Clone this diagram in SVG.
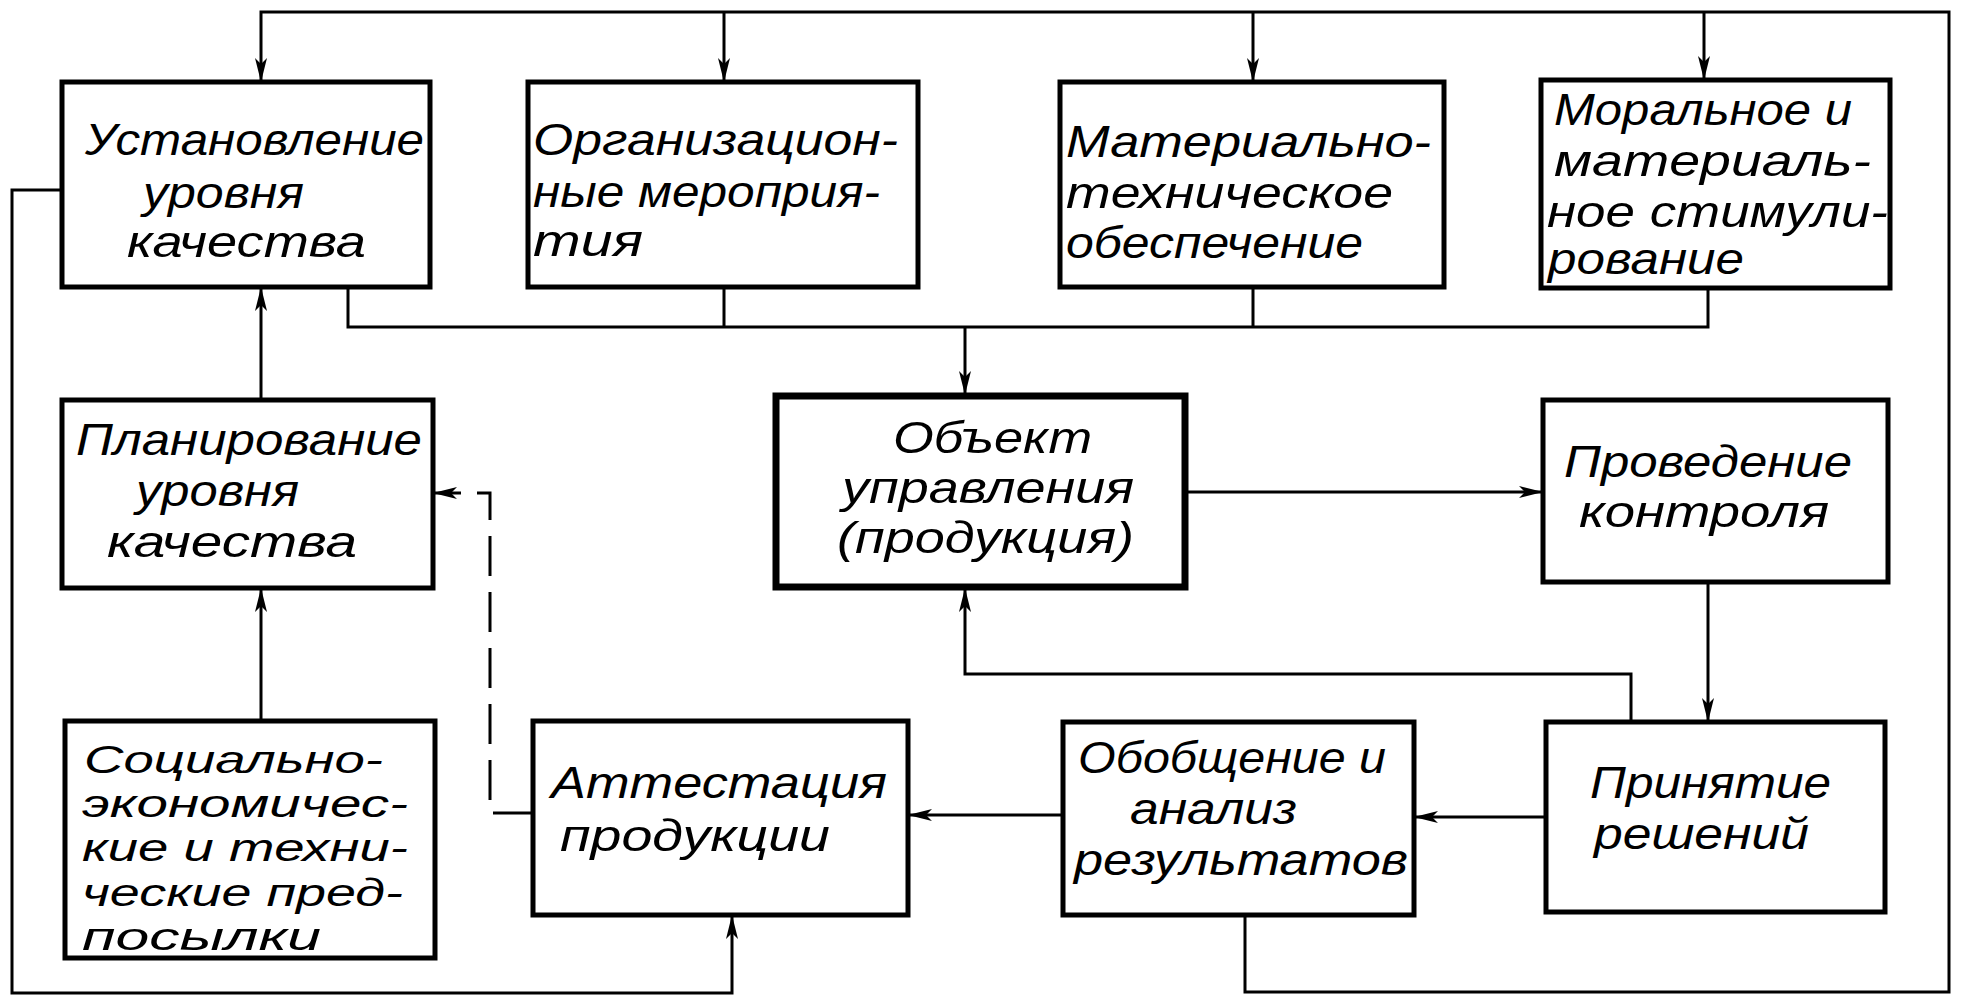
<svg xmlns="http://www.w3.org/2000/svg" width="1963" height="1003" viewBox="0 0 1963 1003">
<style>
.box{fill:#fff;stroke:#000;stroke-width:5}
.obj{fill:#fff;stroke:#000;stroke-width:7}
.t{font-family:"Liberation Sans","DejaVu Sans",sans-serif;font-style:italic;font-size:44px;fill:#000}
.s{font-size:39px}
.c{fill:none;stroke:#000;stroke-width:3}
.d{fill:none;stroke:#000;stroke-width:3;stroke-dasharray:40 16}
</style>
<defs>
<marker id="a" viewBox="0 0 24 12" markerWidth="24" markerHeight="12" refX="24" refY="6" orient="auto" markerUnits="userSpaceOnUse">
<path d="M0,0 L24,6 L0,12 L6,6 z" fill="#000"/>
</marker>
</defs>
<rect width="1963" height="1003" fill="#fff"/>
<g id="connectors">
<path class="c" d="M1245,915 V992 H1949 V12 H261 V82" marker-end="url(#a)"/>
<path class="c" d="M724,12 V82" marker-end="url(#a)"/>
<path class="c" d="M1253,12 V82" marker-end="url(#a)"/>
<path class="c" d="M1704,12 V80" marker-end="url(#a)"/>
<path class="c" d="M62,190 H12 V993 H732 V915" marker-end="url(#a)"/>
<path class="c" d="M348,287 V327 H1708 V288 M724,287 V327 M1253,287 V327"/>
<path class="c" d="M965,327 V395" marker-end="url(#a)"/>
<path class="c" d="M1186,492 H1543" marker-end="url(#a)"/>
<path class="c" d="M1708,582 V722" marker-end="url(#a)"/>
<path class="c" d="M1631,722 V674 H965 V588" marker-end="url(#a)"/>
<path class="c" d="M1546,817 H1414" marker-end="url(#a)"/>
<path class="c" d="M1063,815 H908" marker-end="url(#a)"/>
<path class="d" d="M533,813 H490 V493 H433" marker-end="url(#a)"/>
<path class="c" d="M261,400 V287" marker-end="url(#a)"/>
<path class="c" d="M261,721 V588" marker-end="url(#a)"/>
</g>
<g id="n1">
<rect class="box" x="62" y="82" width="368" height="205"/>
<text class="t" x="85" y="155" textLength="339" lengthAdjust="spacingAndGlyphs">Установление</text>
<text class="t" x="143" y="208" textLength="161" lengthAdjust="spacingAndGlyphs">уровня</text>
<text class="t" x="127" y="257" textLength="239" lengthAdjust="spacingAndGlyphs">качества</text>
</g>
<g id="n2">
<rect class="box" x="528" y="82" width="390" height="205"/>
<text class="t" x="533" y="155" textLength="365" lengthAdjust="spacingAndGlyphs">Организацион-</text>
<text class="t" x="533" y="207" textLength="347" lengthAdjust="spacingAndGlyphs">ные мероприя-</text>
<text class="t" x="533" y="256" textLength="110" lengthAdjust="spacingAndGlyphs">тия</text>
</g>
<g id="n3">
<rect class="box" x="1060" y="82" width="384" height="205"/>
<text class="t" x="1066" y="157" textLength="365" lengthAdjust="spacingAndGlyphs">Материально-</text>
<text class="t" x="1066" y="208" textLength="327" lengthAdjust="spacingAndGlyphs">техническое</text>
<text class="t" x="1066" y="258" textLength="297" lengthAdjust="spacingAndGlyphs">обеспечение</text>
</g>
<g id="n4">
<rect class="box" x="1541" y="80" width="349" height="208"/>
<text class="t" x="1554" y="125" textLength="298" lengthAdjust="spacingAndGlyphs">Моральное и</text>
<text class="t" x="1554" y="176" textLength="317" lengthAdjust="spacingAndGlyphs">материаль-</text>
<text class="t" x="1547" y="227" textLength="341" lengthAdjust="spacingAndGlyphs">ное стимули-</text>
<text class="t" x="1548" y="274" textLength="196" lengthAdjust="spacingAndGlyphs">рование</text>
</g>
<g id="n5">
<rect class="box" x="62" y="400" width="371" height="188"/>
<text class="t" x="76" y="455" textLength="346" lengthAdjust="spacingAndGlyphs">Планирование</text>
<text class="t" x="136" y="506" textLength="163" lengthAdjust="spacingAndGlyphs">уровня</text>
<text class="t" x="107" y="557" textLength="250" lengthAdjust="spacingAndGlyphs">качества</text>
</g>
<g id="n6">
<rect class="obj" x="776" y="396" width="409" height="191"/>
<text class="t" x="893" y="453" textLength="199" lengthAdjust="spacingAndGlyphs">Объект</text>
<text class="t" x="842" y="503" textLength="292" lengthAdjust="spacingAndGlyphs">управления</text>
<text class="t" x="837" y="553" textLength="297" lengthAdjust="spacingAndGlyphs">(продукция)</text>
</g>
<g id="n7">
<rect class="box" x="1543" y="400" width="345" height="182"/>
<text class="t" x="1564" y="477" textLength="288" lengthAdjust="spacingAndGlyphs">Проведение</text>
<text class="t" x="1579" y="527" textLength="250" lengthAdjust="spacingAndGlyphs">контроля</text>
</g>
<g id="n8">
<rect class="box" x="65" y="721" width="370" height="237"/>
<text class="t s" x="84" y="773" textLength="299" lengthAdjust="spacingAndGlyphs">Социально-</text>
<text class="t s" x="82" y="817" textLength="326" lengthAdjust="spacingAndGlyphs">экономичес-</text>
<text class="t s" x="82" y="861" textLength="326" lengthAdjust="spacingAndGlyphs">кие и техни-</text>
<text class="t s" x="82" y="906" textLength="321" lengthAdjust="spacingAndGlyphs">ческие пред-</text>
<text class="t s" x="82" y="950" textLength="239" lengthAdjust="spacingAndGlyphs">посылки</text>
</g>
<g id="n9">
<rect class="box" x="533" y="721" width="375" height="194"/>
<text class="t" x="551" y="798" textLength="336" lengthAdjust="spacingAndGlyphs">Аттестация</text>
<text class="t" x="560" y="851" textLength="270" lengthAdjust="spacingAndGlyphs">продукции</text>
</g>
<g id="n10">
<rect class="box" x="1063" y="722" width="351" height="193"/>
<text class="t" x="1078" y="773" textLength="308" lengthAdjust="spacingAndGlyphs">Обобщение и</text>
<text class="t" x="1130" y="824" textLength="167" lengthAdjust="spacingAndGlyphs">анализ</text>
<text class="t" x="1074" y="875" textLength="334" lengthAdjust="spacingAndGlyphs">результатов</text>
</g>
<g id="n11">
<rect class="box" x="1546" y="722" width="339" height="190"/>
<text class="t" x="1590" y="798" textLength="241" lengthAdjust="spacingAndGlyphs">Принятие</text>
<text class="t" x="1594" y="849" textLength="215" lengthAdjust="spacingAndGlyphs">решений</text>
</g>
</svg>
